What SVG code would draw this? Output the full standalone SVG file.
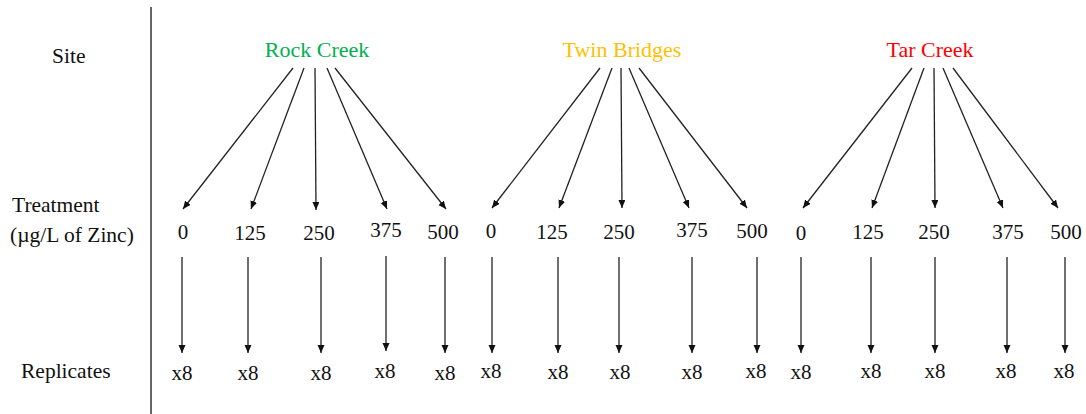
<svg xmlns="http://www.w3.org/2000/svg" width="1086" height="414" viewBox="0 0 1086 414">
<style>
text{font-family:'Liberation Serif',serif;font-size:21px;fill:#111}
.c{text-anchor:middle}
.lbl{font-size:21.5px}
.site{font-size:22px}
.conn line{stroke:#222;stroke-width:1.3;marker-end:url(#ah)}
</style>
<defs>
<marker id="ah" markerUnits="userSpaceOnUse" markerWidth="9" markerHeight="8" refX="8" refY="3.5" orient="auto">
<path d="M0,0 L8,3.5 L0,7 z" fill="#111"/>
</marker>
</defs>
<rect width="1086" height="414" fill="#fff"/>
<line x1="151" y1="7" x2="151" y2="414" stroke="#333" stroke-width="1.5"/>
<g id="row-labels">
<text class="lbl" x="52" y="63">Site</text>
<text class="lbl" x="12" y="212">Treatment</text>
<text class="lbl" x="10" y="242">(µg/L of Zinc)</text>
<text class="lbl" x="21" y="378">Replicates</text>
</g>
<g id="site-rock-creek"><text class="c site" x="317" y="57" style="fill:#00B050">Rock Creek</text></g>
<g id="site-twin-bridges"><text class="c site" x="622" y="57" style="fill:#FFC000">Twin Bridges</text></g>
<g id="site-tar-creek"><text class="c site" x="930" y="57" style="fill:#FF0000">Tar Creek</text></g>
<g id="treatments">
<text class="c" x="183" y="239">0</text>
<text class="c" x="250" y="240">125</text>
<text class="c" x="319" y="240">250</text>
<text class="c" x="386" y="237">375</text>
<text class="c" x="443" y="239">500</text>
<text class="c" x="491" y="238">0</text>
<text class="c" x="552" y="239">125</text>
<text class="c" x="619" y="239">250</text>
<text class="c" x="692" y="237">375</text>
<text class="c" x="752" y="238">500</text>
<text class="c" x="801" y="240">0</text>
<text class="c" x="868" y="239">125</text>
<text class="c" x="934" y="239">250</text>
<text class="c" x="1008" y="239">375</text>
<text class="c" x="1066" y="239">500</text>
</g>
<g id="replicates">
<text class="c" x="182" y="380">x8</text>
<text class="c" x="248" y="380">x8</text>
<text class="c" x="321" y="380">x8</text>
<text class="c" x="385" y="378">x8</text>
<text class="c" x="445" y="380">x8</text>
<text class="c" x="491" y="378">x8</text>
<text class="c" x="558" y="379">x8</text>
<text class="c" x="620" y="379">x8</text>
<text class="c" x="692" y="379">x8</text>
<text class="c" x="756" y="378">x8</text>
<text class="c" x="801" y="379">x8</text>
<text class="c" x="871" y="378">x8</text>
<text class="c" x="935" y="378">x8</text>
<text class="c" x="1006" y="378">x8</text>
<text class="c" x="1064" y="378">x8</text>
</g>
<g id="connectors" class="conn">
<line x1="293" y1="68" x2="183" y2="209"/>
<line x1="304" y1="68" x2="251" y2="209"/>
<line x1="315" y1="68" x2="316" y2="210"/>
<line x1="327" y1="68" x2="387" y2="209"/>
<line x1="335" y1="68" x2="446" y2="209"/>
<line x1="600" y1="68" x2="492" y2="208"/>
<line x1="612" y1="68" x2="559" y2="208"/>
<line x1="621" y1="68" x2="622" y2="208"/>
<line x1="629" y1="68" x2="689" y2="208"/>
<line x1="639" y1="68" x2="747" y2="208"/>
<line x1="912" y1="68" x2="803" y2="208"/>
<line x1="924" y1="68" x2="872" y2="208"/>
<line x1="934" y1="68" x2="935" y2="208"/>
<line x1="943" y1="68" x2="1003" y2="208"/>
<line x1="953" y1="68" x2="1058" y2="208"/>
<line x1="182" y1="257" x2="182" y2="353"/>
<line x1="248" y1="257" x2="248" y2="353"/>
<line x1="321" y1="257" x2="321" y2="353"/>
<line x1="386" y1="256" x2="386" y2="351"/>
<line x1="445" y1="257" x2="445" y2="353"/>
<line x1="492" y1="257" x2="492" y2="353"/>
<line x1="558" y1="257" x2="558" y2="353"/>
<line x1="619" y1="257" x2="619" y2="353"/>
<line x1="692" y1="257" x2="692" y2="353"/>
<line x1="757" y1="257" x2="757" y2="353"/>
<line x1="801" y1="257" x2="801" y2="353"/>
<line x1="871" y1="257" x2="871" y2="353"/>
<line x1="935" y1="257" x2="935" y2="353"/>
<line x1="1007" y1="257" x2="1007" y2="353"/>
<line x1="1065" y1="257" x2="1065" y2="353"/>
</g>
</svg>
